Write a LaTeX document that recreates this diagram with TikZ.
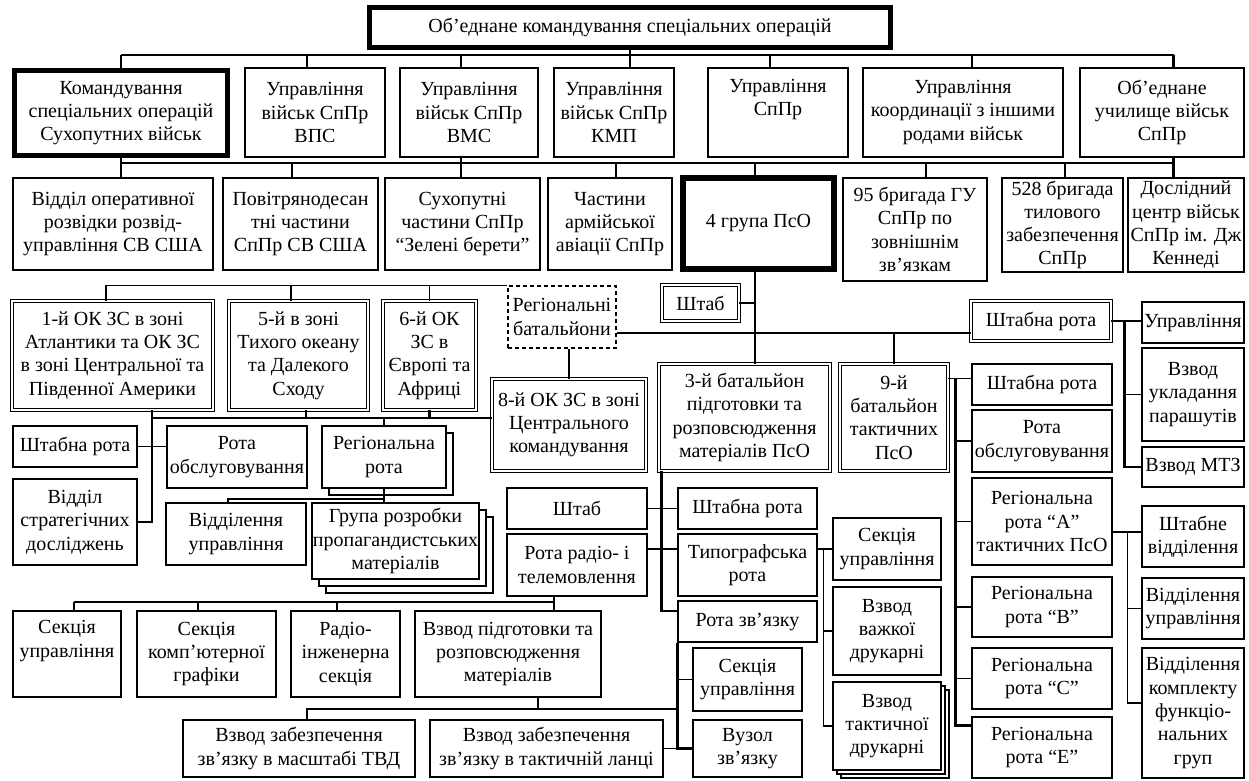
\documentclass[tikz,border=0pt]{standalone}
\usepackage{fontspec}
\setmainfont{Liberation Serif}
\usepackage{tikz}
\usetikzlibrary{shadows}

\begin{document}
\begin{tikzpicture}[x=1pt,y=-1pt,
  box/.style={draw,line width=1.1pt,fill=white,inner sep=0pt,align=center,
    font=\fontsize{20}{23.3}\selectfont},
  spanbox/.style n args={4}{minimum width={#3-#1},minimum height={#4-#2},
    at={({(#1+#3)/2},{(#2+#4)/2})}},
  heavy/.style={box,line width=5pt},
  dbl/.style={box,double,double distance=1.6pt,line width=0.9pt},
  dashbox/.style={box,dashed,dash pattern=on 4pt off 3pt},
  stackone/.style={copy shadow={shadow xshift=7pt,shadow yshift=-7pt,line width=1.1pt}},
  stacktwo/.style={copy shadow={shadow xshift=2*#1,shadow yshift=-2*#1,line width=1.1pt},
    copy shadow={shadow xshift=#1,shadow yshift=-#1,line width=1.1pt}},
  link/.style={line width=1.1pt},
  blink/.style={line width=2.2pt}]
\fill[white] (0,0) rectangle (1249,780);
\useasboundingbox (0,0) rectangle (1249,780);

% top levels
\node[heavy,spanbox={369.5}{7.5}{890.5}{47.5}] (top) {Об’еднане командування спеціальних операцій};
\node[heavy,spanbox={14.5}{70.5}{227.5}{155.5}] (kso) {Командування\\спеціальних операцій\\Сухопутних військ};
\node[box,spanbox={245}{68}{385}{157}] (vps) {Управління\\військ СпПр\\ВПС};
\node[box,spanbox={400}{68}{538}{157}] (vms) {Управління\\військ СпПр\\ВМС};
\node[box,spanbox={554}{68}{674}{157}] (kmp) {Управління\\військ СпПр\\КМП};
\node[box,spanbox={708}{68}{848}{157}] (upr) {Управління\\СпПр\\\strut};
\node[box,spanbox={863}{68}{1063}{157}] (koord) {Управління\\координації з іншими\\родами військ};
\node[box,spanbox={1080}{68}{1244}{157}] (uch) {Об’еднане\\училище військ\\СпПр};

\node[box,spanbox={13}{178}{213}{270}] (vrozv) {Відділ оперативної\\розвідки розвід-\\управління СВ США};
\node[box,spanbox={223}{178}{378}{270}] (povitr) {Повітрянодесан\\тні частини\\СпПр СВ США};
\node[box,spanbox={385}{178}{540}{270}] (suhop) {Сухопутні\\частини СпПр\\“Зелені берети”};
\node[box,spanbox={548}{178}{672}{270}] (armav) {Частини\\армійської\\авіації СпПр};
\node[heavy,line width=6pt,spanbox={683}{178}{834}{269}] (gr4) {4 група ПсО};
\node[box,spanbox={843}{178}{987}{281}] (b95) {95 бригада ГУ\\СпПр по\\зовнішнім\\зв’язкам};
\node[box,spanbox={1002}{178}{1123}{272}] (b528) {528 бригада\\тилового\\забезпечення\\СпПр};
\node[box,spanbox={1128}{178}{1244}{272}] (dosl) {Дослідний\\центр військ\\СпПр ім. Дж\\Кеннеді};

% regional battalions
\node[dbl,spanbox={12}{301}{213}{410}] (ok1) {1-й ОК ЗС в зоні\\Атлантики та ОК ЗС\\в зоні Центральної та\\Південної Америки};
\node[dbl,spanbox={229}{301}{368}{410}] (ok5) {5-й в зоні\\Тихого океану\\та Далекого\\Сходу};
\node[dbl,spanbox={383}{301}{476}{410}] (ok6) {6-й ОК\\ЗС в\\Європі та\\Африці};
\node[dashbox,spanbox={508}{286}{616}{348}] (regbat) {Регіональні\\батальйони};
\node[dbl,spanbox={662}{285}{739}{321}] (shtab4) {Штаб};
\node[dbl,spanbox={492}{379}{646}{471}] (ok8) {8-й ОК ЗС в зоні\\Центрального\\командування};
\node[dbl,spanbox={659}{364}{830}{471}] (bat3) {3-й батальйон\\підготовки та\\розповсюдження\\матеріалів ПсО};
\node[dbl,spanbox={840}{364}{948}{471}] (bat9) {9-й\\батальйон\\тактичних\\ПсО};
\node[dbl,spanbox={971}{301}{1111}{341}] (shrR) {Штабна рота};

% right columns
\node[box,spanbox={1142}{302}{1244}{343}] (upr2) {Управління};
\node[box,spanbox={1142}{348}{1244}{441}] (vzuk) {Взвод\\укладання\\парашутів};
\node[box,spanbox={1142}{447}{1244}{487}] (mtz) {Взвод МТЗ};
\node[box,spanbox={972}{364}{1112}{405}] (shr9) {Штабна рота};
\node[box,spanbox={972}{410}{1112}{472}] (obsl9) {Рота\\обслуговування};
\node[box,spanbox={972}{478}{1112}{565}] (regA) {Регіональна\\рота “А”\\тактичних ПсО};
\node[box,spanbox={972}{577}{1112}{637}] (regB) {Регіональна\\рота “В”};
\node[box,spanbox={972}{648}{1112}{709}] (regC) {Регіональна\\рота “С”};
\node[box,spanbox={972}{717}{1112}{778}] (regE) {Регіональна\\рота “Е”};
\node[box,spanbox={1142}{506}{1244}{567}] (shtv) {Штабне\\відділення};
\node[box,spanbox={1142}{578}{1244}{639}] (vupr) {Відділення\\управління};
\node[box,spanbox={1142}{648}{1244}{778}] (vkomp) {Відділення\\комплекту\\функціо-\\нальних\\груп};

% left middle
\node[box,spanbox={13}{426}{137}{467}] (shrL) {Штабна рота};
\node[box,spanbox={13}{479}{137}{565}] (vstrat) {Відділ\\стратегічних\\досліджень};
\node[box,spanbox={167}{426}{307}{488}] (obsl) {Рота\\обслуговування};
\node[box,stackone,spanbox={322}{426}{446}{488}] (regrota) {Регіональна\\рота};
\node[box,spanbox={166}{503}{306}{565}] (vupr1) {Відділення\\управління};
\node[box,stacktwo=7pt,spanbox={312}{503}{479}{579}] (grupa) {Група розробки\\пропагандистських\\матеріалів};

% centre
\node[box,spanbox={507}{488}{647}{529}] (shtabM) {Штаб};
\node[box,spanbox={507}{534}{647}{596}] (radio) {Рота радіо- і\\телемовлення};
\node[box,spanbox={678}{488}{817}{529}] (shrM) {Штабна рота};
\node[box,spanbox={678}{534}{817}{596}] (typo) {Типографська\\рота};
\node[box,spanbox={678}{601}{817}{642}] (rzv) {Рота зв’язку};
\node[box,spanbox={833}{518}{941}{580}] (sek2) {Секція\\управління};
\node[box,spanbox={833}{587}{941}{675}] (vvazh) {Взвод\\важкої\\друкарні};
\node[box,stacktwo=4pt,spanbox={833}{682}{941}{770}] (vtakt) {Взвод\\тактичної\\друкарні};

% bottom rows
\node[box,spanbox={13}{611}{121}{697}] (sek1) {Секція\\управління\\\strut};
\node[box,spanbox={137}{611}{276}{697}] (komp) {Секція\\комп’ютерної\\графіки};
\node[box,spanbox={291}{611}{400}{697}] (radeng) {Радіо-\\інженерна\\секція};
\node[box,spanbox={415}{611}{601}{697}] (vpidg) {Взвод підготовки та\\розповсюдження\\матеріалів};
\node[box,spanbox={183}{720}{415}{777}] (tvd) {Взвод забезпечення\\зв’язку в масштабі ТВД};
\node[box,spanbox={430}{720}{663}{777}] (taktl) {Взвод забезпечення\\зв’язку в тактичній ланці};
\node[box,spanbox={693}{648}{802}{711}] (sek3) {Секція\\управління};
\node[box,spanbox={693}{720}{802}{777}] (vuzol) {Вузол\\зв’язку};

% bus lines
\coordinate (busA) at (0,55);
\coordinate (busB) at (0,163);
\coordinate (busD) at (0,333);
\coordinate (busE) at (0,418);
\coordinate (busF) at (0,499);
\coordinate (busG) at (0,602);
\coordinate (busH) at (0,709);

\draw[blink] (top.south) -- (top.south |- kmp.north);
\draw[blink] (kso.north) -- (kso.north |- busA);
\draw[link] (kso.north |- busA) -- ([xshift=11.5pt]uch.north |- busA);
\draw[blink] ([xshift=11.5pt]uch.north |- busA) -- ([xshift=11.5pt]uch.north);
\draw[blink] ([xshift=-8pt]vms.north) -- ([xshift=-8pt]vms.north |- busA);
\foreach \n/\s in {vps/-8pt,upr/-8pt,koord/9pt}
  \draw[link] ([xshift=\s]\n.north) -- ([xshift=\s]\n.north |- busA);

\draw[link] (kso.south) -- (kso.south |- vrozv.north);
\draw[link] (kso.south |- busB) -- ([xshift=11.5pt]uch.south |- busB);
\draw[blink] ([xshift=11.5pt]uch.south) -- ([xshift=11.5pt]uch.south |- dosl.north);
\draw[blink] ([xshift=-8pt]vms.south) -- ([xshift=-8pt]vms.south |- suhop.north);
\foreach \n/\s in {povitr/-8.5pt,armav/6pt,gr4/-3.5pt,b95/11pt,b528/2.5pt}
  \draw[link] ([xshift=\s]\n.north) -- ([xshift=\s]\n.north |- busB);

\draw[link] (regbat.north west) -| ([xshift=-6.5pt]ok1.north);
\draw[link] ([xshift=-7.5pt]ok5.north) -- ([xshift=-7.5pt]ok5.north |- regbat.north);
\draw[link] (ok6.north) -- (ok6.north |- regbat.north);

\coordinate (g4) at ([xshift=-3.5pt]gr4.south);
\draw[link] (g4) -- (g4 |- bat3.north);
\draw[link] (shtab4.east) -- (shtab4.east -| g4);
\draw[link] (regbat.east |- busD) -- (shrR.west |- busD);
\draw[blink] (bat9.north) -- (bat9.north |- busD);
\draw[blink] ([xshift=7pt]regbat.south) -- ([xshift=7pt]regbat.south |- ok8.north);

\coordinate (o1) at ([xshift=39.5pt]ok1.south);
\draw[blink] (o1) |- (ok8.west |- busE);
\draw[blink] (o1 |- busE) |- (vstrat.east);
\draw[blink] ([xshift=7.5pt]ok5.south) -- ([xshift=7.5pt]ok5.south |- busE);
\draw[blink] (ok6.south) -- (ok6.south |- busE);
\draw[link] (regrota.north |- busE) -- (regrota.north);
\draw[link] (shrL.east) -- (shrL.east -| obsl.west);
\draw[link] (regrota.south) -- (regrota.south |- grupa.north);
\draw[link] (regrota.south |- busF) -| ([xshift=-8pt]vupr1.north);

\coordinate (b3) at ([xshift=3pt]bat3.south west);
\draw[blink] (b3) |- ([yshift=10.5pt]rzv.west);
\draw[link] (shtabM.east) -- (shrM.west);
\draw[link] ([yshift=16pt]radio.east) -- ([yshift=16pt]typo.west);

\coordinate (r1) at ([xshift=-23pt]radio.south);
\draw[link] (r1) -- (r1 |- vpidg.north);
\draw[link] (r1 |- busG) -- ([xshift=7pt]sek1.north |- busG);
\foreach \n/\s in {sek1/7pt,komp/-8.5pt,radeng/-8.5pt}
  \draw[blink] ([xshift=\s]\n.north) -- ([xshift=\s]\n.north |- busG);

\coordinate (c1) at (rzv.south west);
\draw[blink] ([xshift=30pt]vpidg.south) -- ([xshift=30pt]vpidg.south |- busH);
\draw[link] ([xshift=8pt]tvd.north) |- (c1 |- busH);
\draw[blink] (c1) |- (vuzol.west);
\draw[link] (c1 |- sek3.west) -- (sek3.west);
\draw[link] (taktl.east) -- (vuzol.west);

\coordinate (t1) at ([xshift=6pt,yshift=16pt]typo.east);
\draw[link] ([yshift=16pt]typo.east) -- (t1 -| sek2.west);
\draw[link] (t1) |- (vtakt.west);
\draw[link] (t1 |- vvazh.west) -- (vvazh.west);

\coordinate (n1) at ([yshift=-15pt]bat9.north east);
\coordinate (n2) at ([xshift=7pt]n1);
\draw[link] (n1) -- (n1 -| shr9.west);
\draw[blink] (n2) |- ([yshift=22pt]regE.west);
\foreach \n in {obsl9,regA,regB,regC}
  \draw[link] (n2 |- \n.west) -- (\n.west);

\coordinate (m1) at ([xshift=13pt]shrR.east);
\draw[link] (shrR.east) -- (shrR.east -| upr2.west);
\draw[blink] (m1) |- (mtz.west);
\draw[link] (m1 |- vzuk.west) -- (vzuk.west);

\coordinate (a1) at ([xshift=15pt,yshift=-10.5pt]regA.east);
\draw[link] (regA.east |- a1) -- (a1 -| shtv.west);
\draw[link] (a1) |- ([yshift=10pt]vkomp.west);
\draw[link] (a1 |- vupr.west) -- (vupr.west);
\end{tikzpicture}
\end{document}
